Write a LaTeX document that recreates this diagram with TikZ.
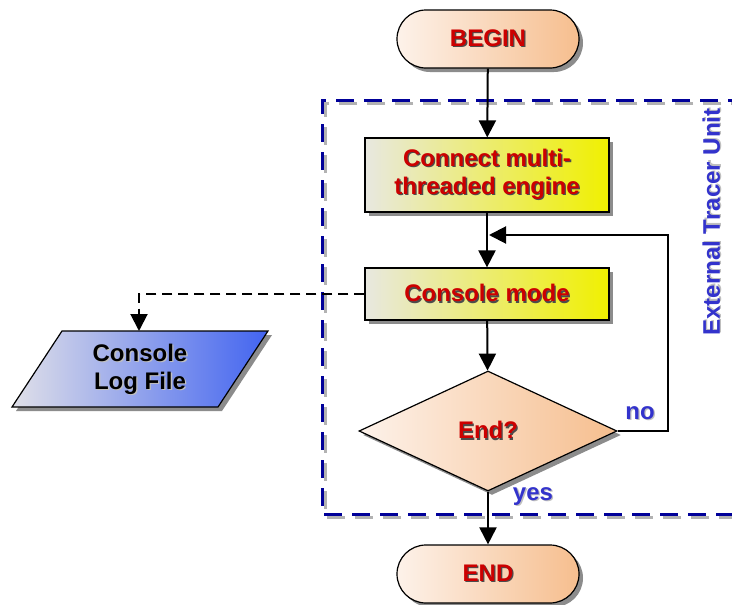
\documentclass[tikz,border=0pt]{standalone}
\usepackage{fontspec}
\setmainfont{Liberation Sans}
\usetikzlibrary{arrows.meta,shapes.geometric,shadows,calc}
\definecolor{txtred}{RGB}{204,0,0}
\definecolor{txtblue}{RGB}{51,51,204}
\definecolor{boxblue}{RGB}{0,0,153}
\definecolor{peach}{RGB}{246,190,142}
\definecolor{peachlight}{RGB}{253,242,234}
\definecolor{yell}{RGB}{240,240,0}
\definecolor{yellgray}{RGB}{232,232,224}
\definecolor{lblue}{RGB}{66,100,240}
\definecolor{lgray}{RGB}{224,224,232}
\newcommand{\redsh}[1]{\makebox[0pt][l]{\kern1.3pt\raisebox{-1.3pt}{\textcolor{black!70}{#1}}}#1}
\newcommand{\bluesh}[1]{\makebox[0pt][l]{\kern1.3pt\raisebox{-1.3pt}{\textcolor{black!25}{#1}}}#1}
\begin{document}
\begin{tikzpicture}[x=1pt,y=-1pt,
  font=\fontsize{24}{28}\selectfont\bfseries,
  shad/.style={drop shadow={shadow xshift=4pt,shadow yshift=-4pt,fill=black!45,opacity=1}},
  proc/.style={draw=black,line width=1.2pt,text=txtred,align=center,inner sep=0pt,shad},
  term/.style={proc,rounded corners=29pt,minimum width=182pt,minimum height=58pt,left color=peachlight,right color=peach},
  procbox/.style={proc,minimum width=244pt,left color=yellgray,right color=yell},
  decision/.style={proc,diamond,minimum width=258pt,minimum height=120pt,left color=peachlight,right color=peach},
  flow/.style={line width=2pt,-{Triangle[length=17pt,width=17pt]}},
  bluetxt/.style={text=txtblue,inner sep=0pt},
]
\fill[white] (0,0) rectangle (732,605);
\useasboundingbox (0,0) rectangle (732,605);

% External Tracer Unit frame
\draw[black!30,line width=3pt,dash pattern=on 18pt off 10pt] (749,103) -- (325,103) -- (325,517) -- (749,517);
\draw[boxblue,line width=3pt,dash pattern=on 18pt off 10pt] (746,100) -- (322,100) -- (322,514) -- (746,514);

\node[term] (begin) at (488,39) {\redsh{BEGIN}};
\node[procbox,minimum height=74pt] (connect) at (487,175) {\redsh{Connect multi-}\\\redsh{threaded engine}};
\node[procbox,minimum height=52pt] (console) at (487,294) {\redsh{Console mode}};
\node[decision] (dec) at (488,431) {\redsh{End?}};
\node[term] (end) at (488,574) {\redsh{END}};

% Console log file (parallelogram)
\path[draw=black,line width=1.2pt,left color=lgray,right color=lblue,shad]
  (62,331) -- (268,331) -- (218,407) -- (12,407) -- cycle;
\node[text=black,align=center,inner sep=0pt] (log) at (140,370) {\bluesh{Console}\\\bluesh{Log File}};
\coordinate (logtop) at (139,331);

% connectors
\draw[flow] (begin) -- (connect);
\draw[flow] (connect) -- (console);
\draw[flow] (console) -- (dec);
\draw[flow] (dec) -- (end);
\coordinate (loopcorner) at (668,235);
\coordinate (loopend) at (489,235);
\draw[flow] (dec.east) -| (loopcorner) -- (loopend);
\draw[flow,dash pattern=on 10pt off 6pt] (console.west) -| (logtop);

% labels
\node[bluetxt] (no) at (640,414) {\bluesh{no}};
\node[bluetxt] (yes) at (533,497) {\bluesh{yes}};
\node[bluetxt,rotate=90] (unit) at (712,222) {\bluesh{External Tracer Unit}};
\end{tikzpicture}
\end{document}
